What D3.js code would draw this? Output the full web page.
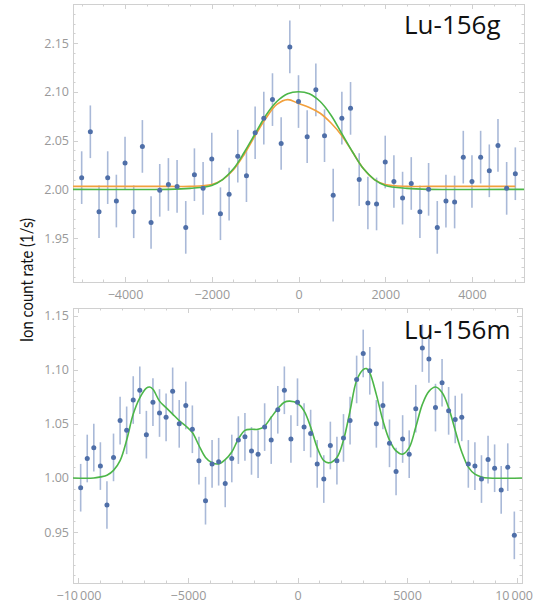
<!DOCTYPE html>
<html><head><meta charset="utf-8">
<script src="https://cdn.jsdelivr.net/npm/d3@7"></script>
<style>body{margin:0;background:#fff}svg{display:block}</style>
</head><body>
<script>
// ---------- Top panel data (Lu-156g) ----------
const topX = [-5000,-4800,-4600,-4400,-4200,-4000,-3800,-3600,-3400,-3200,-3000,-2800,-2600,-2400,-2200,-2000,-1800,-1600,-1400,-1200,-1000,-800,-600,-400,-200,0,200,400,600,800,1000,1200,1400,1600,1800,2000,2200,2400,2600,2800,3000,3200,3400,3600,3800,4000,4200,4400,4600,4800,5000];
const topY = [2.012,2.059,1.977,2.012,1.988,2.027,1.977,2.044,1.966,1.999,2.005,2.003,1.961,2.015,2.001,2.031,1.975,1.995,2.034,2.014,2.058,2.073,2.092,2.047,2.146,2.090,2.054,2.102,2.055,1.994,2.073,2.083,2.010,1.986,1.985,2.028,2.008,1.991,2.006,1.977,2.000,1.961,1.988,1.987,2.033,2.008,2.033,2.019,2.045,2.001,2.016];
const topErr = [0.027,0.027,0.027,0.027,0.027,0.027,0.027,0.027,0.027,0.027,0.027,0.027,0.027,0.027,0.027,0.027,0.027,0.027,0.027,0.027,0.027,0.027,0.027,0.027,0.027,0.027,0.027,0.027,0.027,0.027,0.027,0.027,0.027,0.027,0.027,0.027,0.027,0.027,0.027,0.027,0.027,0.027,0.027,0.027,0.027,0.027,0.027,0.027,0.027,0.027,0.027];
// fit curves
const topGreenX = [-5200,-3000,-2500,-2000,-1750,-1500,-1250,-1000,-750,-500,-250,0,250,500,750,1000,1250,1500,1750,2000,2500,3000,5200];
const topGreenY = [2.000,2.000,2.001,2.004,2.010,2.021,2.038,2.057,2.076,2.090,2.098,2.100,2.098,2.090,2.076,2.057,2.038,2.021,2.010,2.004,2.001,2.000,2.000];
const topOrangeX = [-5200,-3000,-2500,-2000,-1750,-1500,-1250,-1000,-750,-500,-250,0,250,500,750,1000,1250,1500,1750,2000,2500,3000,5000];
const topOrangeY = [2.003,2.003,2.003,2.005,2.010,2.020,2.036,2.055,2.073,2.087,2.092,2.088,2.084,2.078,2.068,2.055,2.038,2.021,2.010,2.005,2.003,2.003,2.003];
const topXTicks = [-4000,-2000,0,2000,4000];
const topYTicks = [1.95,2.00,2.05,2.10,2.15];
const topTitle = "Lu-156g";

// ---------- Bottom panel data (Lu-156m) ----------
const botX = [-9900,-9600,-9300,-9000,-8700,-8400,-8100,-7800,-7500,-7200,-6900,-6600,-6300,-6000,-5700,-5400,-5100,-4800,-4500,-4200,-3900,-3600,-3300,-3000,-2700,-2400,-2100,-1800,-1500,-1200,-900,-600,-300,0,300,600,900,1200,1500,1800,2100,2400,2700,3000,3300,3600,3900,4200,4500,4800,5100,5400,5700,6000,6300,6600,6900,7200,7500,7800,8100,8400,8700,9000,9300,9600,9900];
const botY = [0.991,1.018,1.028,1.011,0.975,1.019,1.053,1.044,1.072,1.081,1.040,1.070,1.060,1.056,1.080,1.050,1.067,1.045,1.016,0.979,1.013,1.015,0.995,1.018,1.035,1.038,1.025,1.022,1.047,1.035,1.063,1.081,1.036,1.070,1.047,1.041,1.013,0.999,1.030,1.016,1.037,1.053,1.091,1.115,1.099,1.050,1.067,1.032,1.006,1.036,1.022,1.064,1.120,1.110,1.065,1.088,1.062,1.054,1.056,1.013,1.011,0.999,1.017,1.009,0.989,1.010,0.947];
const botErr = [0.022,0.022,0.022,0.022,0.022,0.022,0.022,0.022,0.022,0.022,0.022,0.022,0.022,0.022,0.022,0.022,0.022,0.022,0.022,0.022,0.022,0.022,0.022,0.022,0.022,0.022,0.022,0.022,0.022,0.022,0.022,0.022,0.022,0.022,0.022,0.022,0.022,0.022,0.022,0.022,0.022,0.022,0.022,0.022,0.022,0.022,0.022,0.022,0.022,0.022,0.022,0.022,0.022,0.022,0.022,0.022,0.022,0.022,0.022,0.022,0.022,0.022,0.022,0.022,0.022,0.022,0.022];
const botGreenX = [-10250,-9300,-9000,-8700,-8400,-8100,-7800,-7500,-7200,-6900,-6750,-6600,-6300,-6000,-5700,-5400,-5100,-4800,-4500,-4200,-3900,-3600,-3300,-3000,-2700,-2400,-2100,-1800,-1500,-1200,-900,-600,-350,0,300,600,900,1200,1450,1800,2100,2400,2700,3000,3150,3300,3600,3900,4200,4500,4800,5100,5400,5700,6000,6300,6600,6900,7200,7500,7800,8100,8400,8700,10250];
const botGreenY = [1.000,1.000,1.001,1.0025,1.007,1.016,1.035,1.059,1.074,1.083,1.084,1.082,1.071,1.065,1.059,1.053,1.048,1.042,1.030,1.019,1.014,1.013,1.017,1.024,1.036,1.044,1.045,1.045,1.048,1.056,1.064,1.070,1.071,1.069,1.062,1.047,1.028,1.016,1.014,1.019,1.035,1.062,1.090,1.100,1.101,1.097,1.077,1.053,1.035,1.025,1.022,1.028,1.047,1.068,1.080,1.084,1.079,1.065,1.044,1.024,1.010,1.0035,1.001,1.000,1.000];
const botXTicks = [-10000,-5000,0,5000,10000];
const botXTickLabels = ["\u221210\u2009000","\u22125000","0","5000","10\u2009000"];
const botYTicks = [0.95,1.00,1.05,1.10,1.15];
const botTitle = "Lu-156m";

const yLabel = "Ion count rate (1/s)";

// ---------- drawing ----------
const W = 534, H = 604;
const svg = d3.select("body").append("svg").attr("width", W).attr("height", H);
const FONT = "'Open Sans', 'DejaVu Sans', sans-serif";
const frameCol = "#d0d0d0", tickLabCol = "#999999";
const ptCol = "#4f6fa8", errCol = "#a9b9d8", greenCol = "#4cb648", orangeCol = "#f2a03c";

function panel(opt) {
  const x = d3.scaleLinear().domain(opt.xd).range([opt.l, opt.r]);
  const y = d3.scaleLinear().domain(opt.yd).range([opt.b, opt.t]);
  const g = svg.append("g");
  const minorX = d3.range(Math.ceil(opt.xd[0]/opt.xMinor)*opt.xMinor, opt.xd[1]+1e-9, opt.xMinor);
  const minorY = d3.range(Math.ceil(opt.yd[0]/0.01-1e-9)*0.01, opt.yd[1]+1e-9, 0.01);
  const majX = new Set(opt.xTicks.map(v=>Math.round(v)));
  const majY = new Set(opt.yTicks.map(v=>Math.round(v*100)));
  const tg = g.append("g").attr("stroke", frameCol).attr("stroke-width", 1);
  minorX.forEach(v => {
    const len = majX.has(Math.round(v)) ? 5 : 2.5;
    const px = Math.round(x(v)) + 0.5;
    tg.append("line").attr("x1", px).attr("x2", px).attr("y1", opt.b).attr("y2", opt.b - len);
    tg.append("line").attr("x1", px).attr("x2", px).attr("y1", opt.t).attr("y2", opt.t + len);
  });
  minorY.forEach(v => {
    const len = majY.has(Math.round(v*100)) ? 5 : 2.5;
    const py = Math.round(y(v)) + 0.5;
    tg.append("line").attr("y1", py).attr("y2", py).attr("x1", opt.l).attr("x2", opt.l + len);
    tg.append("line").attr("y1", py).attr("y2", py).attr("x1", opt.r).attr("x2", opt.r - len);
  });
  g.append("rect").attr("x", opt.l + 0.5).attr("y", opt.t + 0.5)
    .attr("width", opt.r - opt.l).attr("height", opt.b - opt.t)
    .attr("fill", "none").attr("stroke", frameCol).attr("stroke-width", 1);
  const ax = g.append("g").attr("transform", `translate(0,${opt.b})`)
    .call(d3.axisBottom(x).tickValues(opt.xTicks).tickSize(0).tickPadding(8)
      .tickFormat((d,i) => opt.xLabels[i]));
  const ay = g.append("g").attr("transform", `translate(${opt.l},0)`)
    .call(d3.axisLeft(y).tickValues(opt.yTicks).tickSize(0).tickPadding(4)
      .tickFormat(d3.format(".2f")));
  [ax, ay].forEach(a => {
    a.select(".domain").remove();
    a.selectAll("text").attr("fill", tickLabCol).style("font-family", FONT).style("font-size", "12.5px");
  });
  // keep the last x label inside the page
  ax.selectAll(".tick text").each(function() {
    const bb = this.getBBox();
    const tr = this.parentNode.getAttribute("transform");
    const tx = +tr.match(/translate\(([-\d.]+)/)[1];
    const right = tx + bb.x + bb.width;
    if (right > W - 1) d3.select(this).attr("dx", (W - 1 - right) + "px");
  });
  const cid = "clip" + opt.id;
  svg.append("clipPath").attr("id", cid).append("rect")
    .attr("x", opt.l).attr("y", opt.t).attr("width", opt.r - opt.l).attr("height", opt.b - opt.t);
  const p = g.append("g").attr("clip-path", `url(#${cid})`);
  p.selectAll("line.err").data(opt.px).join("line").attr("class","err")
    .attr("x1", d => x(d)).attr("x2", d => x(d))
    .attr("y1", (d,i) => y(opt.py[i] - opt.pe[i])).attr("y2", (d,i) => y(opt.py[i] + opt.pe[i]))
    .attr("stroke", errCol).attr("stroke-width", 1.6);
  const line = d3.line().curve(d3.curveCatmullRom.alpha(0.5));
  opt.curves.forEach(c => {
    p.append("path").attr("d", line(c.x.map((v,i)=>[x(v), y(c.y[i])])))
      .attr("fill","none").attr("stroke", c.col).attr("stroke-width", 1.6);
  });
  p.selectAll("circle").data(opt.px).join("circle")
    .attr("cx", d => x(d)).attr("cy", (d,i) => y(opt.py[i])).attr("r", 2.5)
    .attr("fill", ptCol);
  g.append("text").attr("x", opt.titleX).attr("y", opt.titleY).text(opt.title)
    .attr("fill", "#111").style("font-family", FONT).style("font-size", "26px");
}

panel({id:"top", l:73, r:524, t:4, b:282, xd:[-5200,5200], yd:[1.905,2.19], xMinor:500,
  xTicks: topXTicks, xLabels: topXTicks.map(v => v < 0 ? "\u2212" + Math.abs(v) : String(v)),
  yTicks: topYTicks, px: topX, py: topY, pe: topErr,
  curves: [{x: topOrangeX, y: topOrangeY, col: orangeCol}, {x: topGreenX, y: topGreenY, col: greenCol}],
  title: topTitle, titleX: 404, titleY: 34});

panel({id:"bot", l:73, r:522, t:308, b:583, xd:[-10250,10250], yd:[0.903,1.157], xMinor:1000,
  xTicks: botXTicks, xLabels: botXTickLabels,
  yTicks: botYTicks, px: botX, py: botY, pe: botErr,
  curves: [{x: botGreenX, y: botGreenY, col: greenCol}],
  title: botTitle, titleX: 404, titleY: 339});

svg.append("text").attr("transform", "translate(33,280) rotate(-90)")
  .attr("text-anchor", "middle").text(yLabel)
  .attr("textLength", 124).attr("lengthAdjust", "spacingAndGlyphs")
  .attr("fill", "#111").style("font-family", "Lato, 'Open Sans', sans-serif").style("font-size", "17px");
</script>
</body></html>
